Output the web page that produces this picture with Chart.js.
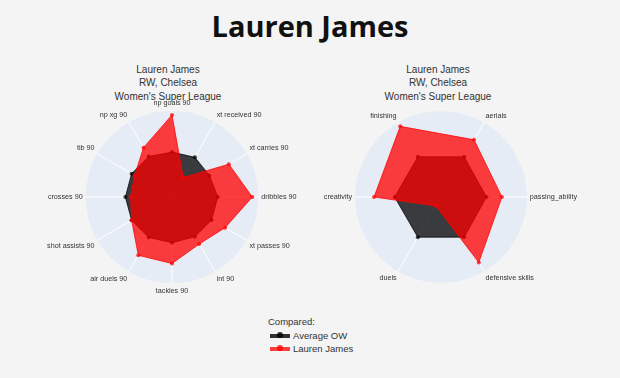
<!DOCTYPE html>
<html>
<head>
<meta charset="utf-8">
<script src="https://cdn.jsdelivr.net/npm/chart.js@4.4.1/dist/chart.umd.min.js"></script>
<style>
  html, body { margin: 0; padding: 0; }
  body { width: 620px; height: 378px; background: #f4f4f4; position: relative; overflow: hidden; font-family: "Liberation Sans", Arial, sans-serif; }
  #title { position: absolute; left: 0; width: 620px; top: 6px; text-align: center; font-family: "Open Sans", sans-serif; font-weight: 700; font-size: 29px; line-height: 40px; color: #111; }
  .sub { position: absolute; width: 200px; text-align: center; font-size: 10px; line-height: 13.3px; color: #333; top: 63px; }
  canvas { position: absolute; }
  #legend { position: absolute; left: 268px; top: 315px; font-size: 9.5px; color: #333; }
  #legend .row { height: 13.5px; line-height: 13.5px; white-space: nowrap; position: relative; }
  #legend .sym { display: inline-block; position: relative; width: 20px; height: 13px; vertical-align: top; margin-left: 2px; margin-right: 3px; }
  #legend .sym .bar { position: absolute; left: 0; top: 5px; width: 20px; height: 4px; }
  #legend .sym .dot { position: absolute; left: 7px; top: 3px; width: 6px; height: 6px; border-radius: 3px; }
</style>
</head>
<body>
<div id="title">Lauren James</div>
<div class="sub" id="subL" style="left:68px;">Lauren James<br>RW, Chelsea<br>Women's Super League</div>
<div class="sub" id="subR" style="left:338px;">Lauren James<br>RW, Chelsea<br>Women's Super League</div>
<canvas id="left" width="284" height="196" style="left:30px; top:99px;"></canvas>
<canvas id="right" width="272" height="196" style="left:312px; top:99px;"></canvas>
<div id="legend">
  <div class="row">Compared:</div>
  <div class="row"><span class="sym"><span class="bar" style="background:rgba(0,0,0,0.8)"></span><span class="dot" style="background:rgba(0,0,0,0.8)"></span></span>Average OW</div>
  <div class="row"><span class="sym"><span class="bar" style="background:rgba(255,0,0,0.75)"></span><span class="dot" style="background:rgba(255,0,0,0.75)"></span></span>Lauren James</div>
</div>
<script>
// ---- data ----
const seriesNames = ['Lauren James', 'Average OW'];
const leftCategories = ['np goals 90', 'xt received 90', 'xt carries 90', 'dribbles 90', 'xt passes 90', 'int 90', 'tackles 90', 'air duels 90', 'shot assists 90', 'crosses 90', 'tib 90', 'np xg 90'];
const leftPlayer = [95, 26, 76, 93, 71, 63, 77, 78, 54, 48, 50, 66];
const leftAverage = [52, 53, 50, 53, 53, 53, 53, 54, 54, 54, 54, 54];
const rightCategories = ['finishing', 'aerials', 'passing_ability', 'defensive skills', 'duels', 'creativity'];
const rightPlayer = [95, 77, 71, 88, 12, 78];
const rightAverage = [54, 54, 53, 54, 54, 54];

const RED = 'rgba(255,0,0,0.75)';
const BLACK = 'rgba(0,0,0,0.75)';

function makeRadar(id, labels, player, avg, startAngle) {
  return new Chart(document.getElementById(id), {
    type: 'radar',
    data: {
      labels: labels,
      datasets: [
        { label: seriesNames[0], data: player, fill: true, backgroundColor: RED, borderColor: RED, borderWidth: 1,
          pointRadius: 2, pointBackgroundColor: RED, pointBorderWidth: 0 },
        { label: seriesNames[1], data: avg, fill: true, backgroundColor: BLACK, borderColor: BLACK, borderWidth: 1,
          pointRadius: 2, pointBackgroundColor: BLACK, pointBorderWidth: 0 }
      ]
    },
    options: {
      responsive: false,
      animation: false,
      devicePixelRatio: 1,
      elements: { line: { tension: 0 } },
      plugins: { legend: { display: false }, tooltip: { enabled: false }, title: { display: false } },
      scales: {
        r: {
          min: 0, max: 100,
          startAngle: startAngle,
          backgroundColor: '#e5ecf6',
          grid: { display: false, circular: true },
          angleLines: { display: true, color: '#ffffff', lineWidth: 1 },
          ticks: { display: false },
          pointLabels: { padding: 3, color: '#333', font: { family: '"Liberation Sans", Arial, sans-serif', size: 7.2 } }
        }
      }
    }
  });
}

makeRadar('left', leftCategories, leftPlayer, leftAverage, 0);
makeRadar('right', rightCategories, rightPlayer, rightAverage, -30);
</script>
</body>
</html>
